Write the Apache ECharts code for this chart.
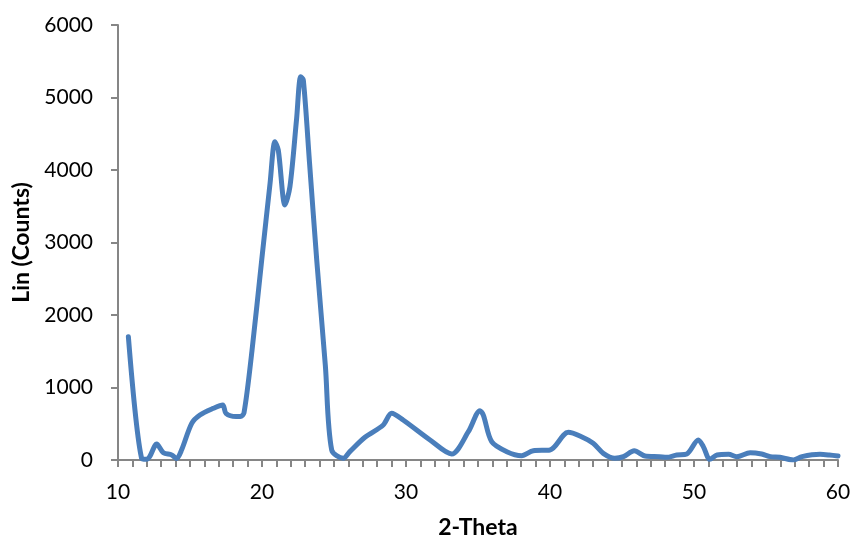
<!DOCTYPE html>
<html>
<head>
<meta charset="utf-8">
<script src="https://cdn.jsdelivr.net/npm/echarts@6/dist/echarts.min.js"></script>
<style>
html,body{margin:0;padding:0;background:#fff;}
#chart{width:852px;height:540px;}
</style>
</head>
<body>
<div id="chart"></div>
<script>
const thetaValues = [10.72,11.64,11.99,12.2,12.69,13.15,13.73,14.07,14.42,15.12,15.69,16.62,17.27,17.5,18.2,18.5,18.75,19.3,19.98,20.56,20.9,21.13,21.6,21.94,22.4,22.69,22.87,23.3,23.8,24.4,24.84,25.65,26.1,27.15,28.42,29.0,29.8,31.67,33.17,34.33,35.14,35.37,35.95,37.0,38.03,38.84,40.0,41.27,42.08,43.0,43.7,44.5,45.1,45.85,46.6,47.6,48.1,48.8,49.5,50.3,50.65,51.1,51.6,52.4,52.97,53.9,54.7,55.3,55.97,56.9,57.5,58.75,59.4,60.0];
const countValues = [1700,23,10,45,220,100,70,20,140,505,620,713,760,644,600,600,650,1500,2759,3816,4391,4276,3517,3770,4700,5287,5241,4100,2759,1300,138,23,115,313,483,644,552,276,83,390,680,620,253,115,60,128,138,382,331,230,92,23,46,128,55,46,37,69,83,276,184,10,69,78,46,101,83,46,37,0,46,78,69,55];
const xTitle = '2-Theta';
const yTitle = 'Lin (Counts)';

const seriesData = thetaValues.map((t, i) => [t, countValues[i]]);
const chart = echarts.init(document.getElementById('chart'), null, {renderer: 'canvas'});
const axisColor = '#868686';
const font = 'Lato, "Open Sans", sans-serif';
chart.setOption({
  animation: false,
  grid: {left: 118, right: 14, top: 25, bottom: 80, containLabel: false, outerBoundsMode: 'none'},
  xAxis: {
    type: 'value', min: 10, max: 60, interval: 1,
    name: xTitle, nameLocation: 'middle', nameGap: 56,
    nameTextStyle: {fontFamily: font, fontSize: 23, fontWeight: 'bold', color: '#000'},
    axisLine: {onZero: false, lineStyle: {color: axisColor, width: 2}},
    axisTick: {show: true, interval: 0, inside: false, length: 7, lineStyle: {color: axisColor, width: 2}},
    axisLabel: {fontFamily: font, fontSize: 21, color: '#000', margin: 22, interval: 0, showMinLabel: true, showMaxLabel: true,
      formatter: v => (Math.round(v) % 10 === 0 ? String(Math.round(v)) : '')},
    splitLine: {show: false}
  },
  yAxis: {
    type: 'value', min: 0, max: 6000, interval: 1000,
    name: yTitle, nameLocation: 'middle', nameGap: 77,
    nameTextStyle: {fontFamily: font, fontSize: 23, fontWeight: 'bold', color: '#000'},
    axisLine: {show: true, onZero: false, lineStyle: {color: axisColor, width: 2}},
    axisTick: {show: true, inside: false, length: 7, lineStyle: {color: axisColor, width: 2}},
    axisLabel: {fontFamily: font, fontSize: 21, color: '#000', margin: 25, formatter: v => String(v)},
    splitLine: {show: false}
  },
  series: [{
    type: 'line',
    data: seriesData,
    smooth: 0.3,
    symbol: 'none',
    lineStyle: {color: '#4A7EBB', width: 5, join: 'round', cap: 'round'}
  }]
});
</script>
</body>
</html>
